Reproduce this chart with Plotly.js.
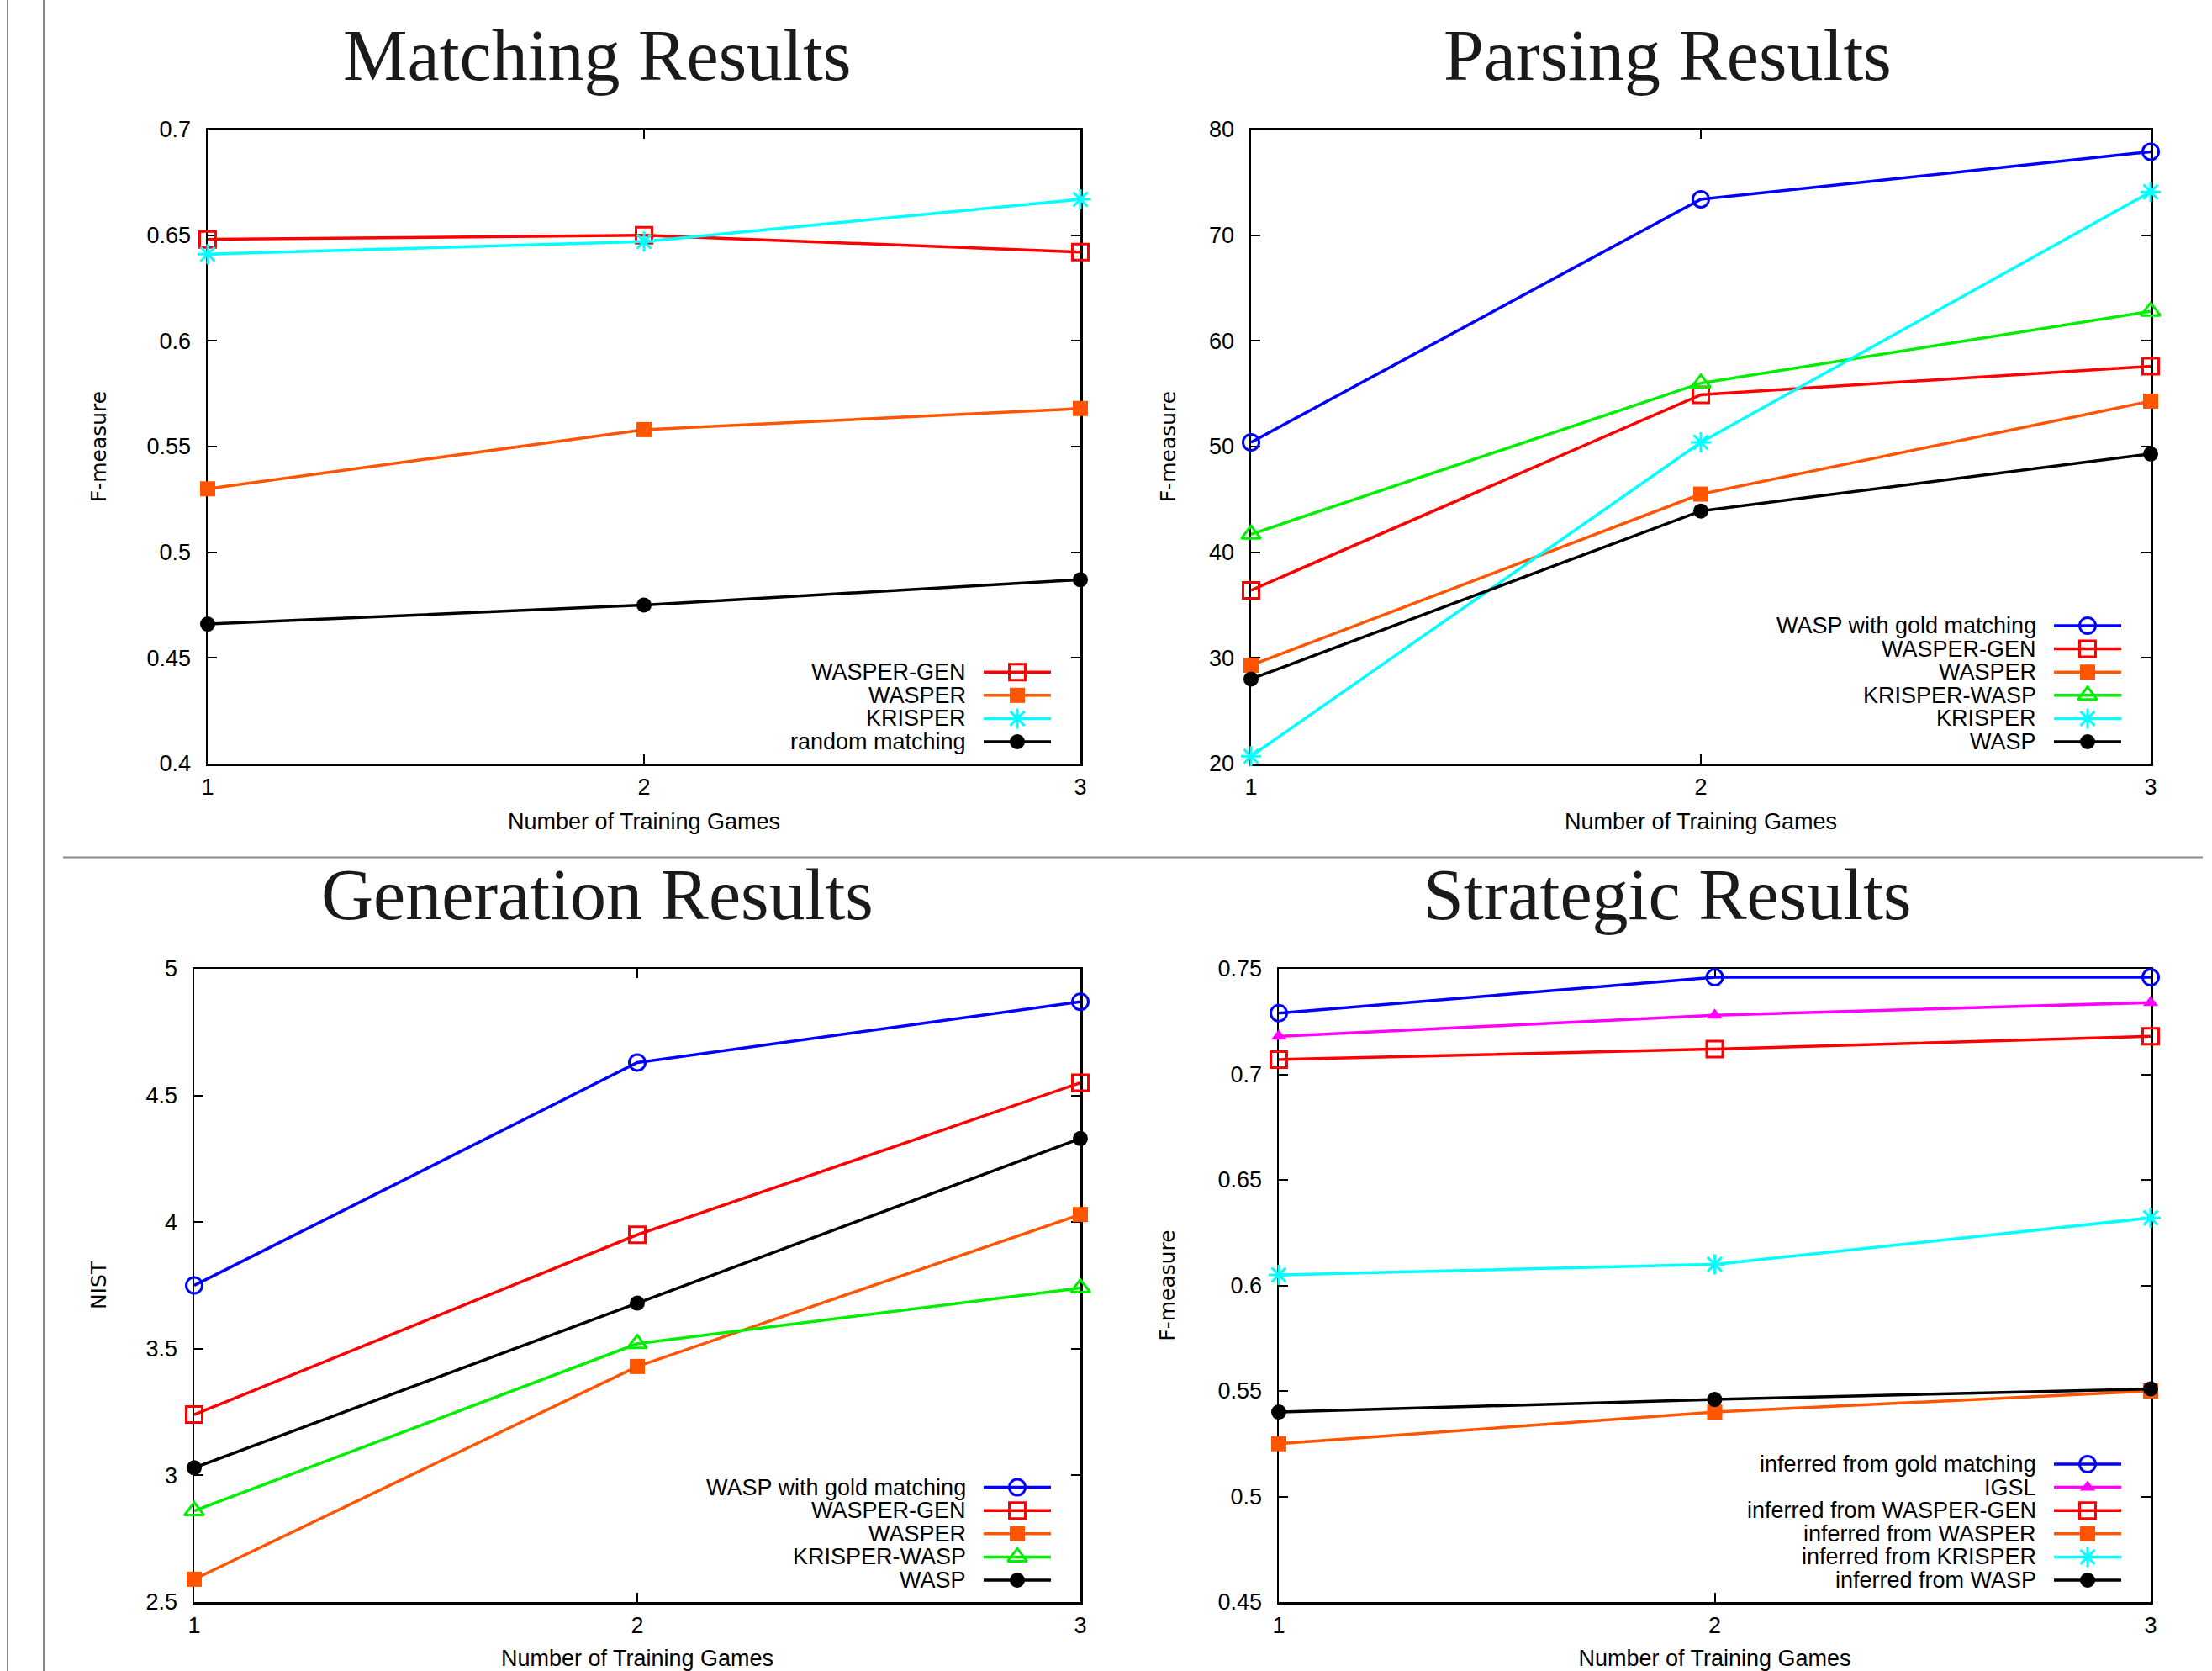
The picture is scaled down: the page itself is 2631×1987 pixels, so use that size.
<!DOCTYPE html>
<html><head><meta charset="utf-8">
<script src="https://cdn.plot.ly/plotly-3.0.1.min.js"></script>
<style>html,body{margin:0;padding:0;background:#fff;} #chart{width:2631px;height:1987px;}</style>
</head><body><div id="chart"></div>
<script>
// ---------------- data ----------------
const xGames = [1, 2, 3];
const xTickLabels = ['1', '2', '3'];

// Matching Results (F-measure)
const matchWasperGen = [0.648, 0.650, 0.642];
const matchWasper    = [0.530, 0.558, 0.568];
const matchKrisper   = [0.641, 0.647, 0.667];
const matchRandom    = [0.466, 0.475, 0.487];
const matchYTicks    = [0.4, 0.45, 0.5, 0.55, 0.6, 0.65, 0.7];
const matchYTickText = ['0.4', '0.45', '0.5', '0.55', '0.6', '0.65', '0.7'];

// Parsing Results (F-measure)
const parseGold        = [50.4, 73.4, 77.9];
const parseWasperGen   = [36.4, 54.9, 57.6];
const parseWasper      = [29.3, 45.5, 54.3];
const parseKrisperWasp = [41.7, 56.0, 62.8];
const parseKrisper     = [20.7, 50.4, 74.1];
const parseWasp        = [28.0, 43.9, 49.3];
const parseYTicks      = [20, 30, 40, 50, 60, 70, 80];
const parseYTickText   = ['20', '30', '40', '50', '60', '70', '80'];

// Generation Results (NIST)
const genGold        = [3.75, 4.63, 4.87];
const genWasperGen   = [3.24, 3.95, 4.55];
const genWasper      = [2.59, 3.43, 4.03];
const genKrisperWasp = [2.86, 3.52, 3.74];
const genWasp        = [3.03, 3.68, 4.33];
const genYTicks      = [2.5, 3, 3.5, 4, 4.5, 5];
const genYTickText   = ['2.5', '3', '3.5', '4', '4.5', '5'];

// Strategic Results (F-measure)
const stratGold      = [0.729, 0.746, 0.746];
const stratIGSL      = [0.718, 0.728, 0.734];
const stratWasperGen = [0.707, 0.712, 0.718];
const stratWasper    = [0.525, 0.540, 0.550];
const stratKrisper   = [0.605, 0.610, 0.632];
const stratWasp      = [0.540, 0.546, 0.551];
const stratYTicks    = [0.45, 0.5, 0.55, 0.6, 0.65, 0.7, 0.75];
const stratYTickText = ['0.45', '0.5', '0.55', '0.6', '0.65', '0.7', '0.75'];

// ---------------- styling ----------------
const W = 2631, H = 1987;
const STY = {
  gold:    {color: '#0000ff', symbol: 'circle-open',      size: 19, open: true},
  wgen:    {color: '#ff0000', symbol: 'square-open',      size: 19, open: true},
  wasper:  {color: '#ff5500', symbol: 'square',           size: 18, open: false},
  kw:      {color: '#00ee00', symbol: 'triangle-up-open', size: 20, open: true},
  krisper: {color: '#00ffff', symbol: 'asterisk-open',    size: 20, open: true},
  wasp:    {color: '#000000', symbol: 'circle',           size: 18, open: false},
  igsl:    {color: '#ff00ff', symbol: 'triangle-up',      size: 16, open: false}
};
const SANS = 'Liberation Sans, Arial, sans-serif';
const YT_FONT = 'DejaVu Sans, sans-serif';
const SERIF = 'Liberation Serif, Times New Roman, serif';

const panels = [
  {title: 'Matching Results', titleX: 710, titleY: 66, box: [247, 154, 1285, 908],
   yRange: [0.4, 0.7], yTicks: matchYTicks, yText: matchYTickText, yTitle: 'F-measure', yStand: 41,
   series: [
     {name: 'WASPER-GEN', y: matchWasperGen, s: 'wgen'},
     {name: 'WASPER', y: matchWasper, s: 'wasper'},
     {name: 'KRISPER', y: matchKrisper, s: 'krisper'},
     {name: 'random matching', y: matchRandom, s: 'wasp'}
   ]},
  {title: 'Parsing Results', titleX: 1983, titleY: 66, box: [1488, 154, 2558, 908],
   yRange: [20, 80], yTicks: parseYTicks, yText: parseYTickText, yTitle: 'F-measure', yStand: 33,
   series: [
     {name: 'WASP with gold matching', y: parseGold, s: 'gold'},
     {name: 'WASPER-GEN', y: parseWasperGen, s: 'wgen'},
     {name: 'WASPER', y: parseWasper, s: 'wasper'},
     {name: 'KRISPER-WASP', y: parseKrisperWasp, s: 'kw'},
     {name: 'KRISPER', y: parseKrisper, s: 'krisper'},
     {name: 'WASP', y: parseWasp, s: 'wasp'}
   ]},
  {title: 'Generation Results', titleX: 710, titleY: 1064, box: [231, 1152, 1285, 1905],
   yRange: [2.5, 5], yTicks: genYTicks, yText: genYTickText, yTitle: 'NIST', yStand: 40,
   series: [
     {name: 'WASP with gold matching', y: genGold, s: 'gold'},
     {name: 'WASPER-GEN', y: genWasperGen, s: 'wgen'},
     {name: 'WASPER', y: genWasper, s: 'wasper'},
     {name: 'KRISPER-WASP', y: genKrisperWasp, s: 'kw'},
     {name: 'WASP', y: genWasp, s: 'wasp'}
   ]},
  {title: 'Strategic Results', titleX: 1983, titleY: 1064, box: [1521, 1152, 2558, 1905],
   yRange: [0.45, 0.75], yTicks: stratYTicks, yText: stratYTickText, yTitle: 'F-measure', yStand: 44,
   series: [
     {name: 'inferred from gold matching', y: stratGold, s: 'gold'},
     {name: 'IGSL', y: stratIGSL, s: 'igsl'},
     {name: 'inferred from WASPER-GEN', y: stratWasperGen, s: 'wgen'},
     {name: 'inferred from WASPER', y: stratWasper, s: 'wasper'},
     {name: 'inferred from KRISPER', y: stratKrisper, s: 'krisper'},
     {name: 'inferred from WASP', y: stratWasp, s: 'wasp'}
   ]}
];

const traces = [];
const annotations = [];
const layout = {
  width: W, height: H,
  margin: {l: 0, r: 0, t: 0, b: 0, pad: 0},
  paper_bgcolor: '#ffffff', plot_bgcolor: 'rgba(0,0,0,0)',
  showlegend: false,
  font: {family: SANS, size: 27, color: '#000'},
  shapes: [
    {type: 'line', xref: 'paper', yref: 'paper', x0: 9 / W, x1: 9 / W, y0: 0, y1: 1, line: {color: '#8a8a8a', width: 2}},
    {type: 'line', xref: 'paper', yref: 'paper', x0: 52 / W, x1: 52 / W, y0: 0, y1: 1, line: {color: '#8a8a8a', width: 2}},
    {type: 'line', xref: 'paper', yref: 'paper', x0: 75 / W, x1: 2620 / W, y0: 1 - 1019.5 / H, y1: 1 - 1019.5 / H, line: {color: '#8a8a8a', width: 2}}
  ],
  annotations: annotations
};

function markerFor(st) {
  return {
    symbol: st.symbol, size: st.size, color: st.color,
    line: {color: st.color, width: st.open ? 3 : 0}
  };
}

panels.forEach((p, i) => {
  const n = i + 1;
  const xid = n === 1 ? 'x' : 'x' + n;
  const yid = n === 1 ? 'y' : 'y' + n;
  const oxid = 'x' + (n + 4), oyid = 'y' + (n + 4);
  const [x0, y0, x1, y1] = p.box;
  const pw = x1 - x0, ph = y1 - y0;

  layout[n === 1 ? 'xaxis' : 'xaxis' + n] = {
    domain: [x0 / W, x1 / W], anchor: yid, range: [1, 3],
    tickmode: 'array', tickvals: xGames, ticktext: xTickLabels,
    ticks: 'inside', ticklen: 11, tickwidth: 2, tickcolor: '#000',
    showline: true, linecolor: '#000', linewidth: 2.5, mirror: 'ticks',
    showgrid: false, zeroline: false, layer: 'below traces',
    tickfont: {family: SANS, size: 27, color: '#000'}, ticklabelstandoff: 2,
    title: {text: 'Number of Training Games', font: {family: SANS, size: 27, color: '#000'}, standoff: 17},
    fixedrange: true
  };
  layout[n === 1 ? 'yaxis' : 'yaxis' + n] = {
    domain: [1 - y1 / H, 1 - y0 / H], anchor: xid, range: p.yRange,
    tickmode: 'array', tickvals: p.yTicks, ticktext: p.yText,
    ticks: 'inside', ticklen: 11, tickwidth: 2, tickcolor: '#000',
    showline: true, linecolor: '#000', linewidth: 2.5, mirror: 'ticks',
    showgrid: false, zeroline: false, layer: 'below traces',
    tickfont: {family: SANS, size: 27, color: '#000'}, ticklabelstandoff: 12,
    title: {text: p.yTitle, font: {family: YT_FONT, size: 25, color: '#000'}, standoff: p.yStand},
    fixedrange: true
  };
  // overlay axes in pixel units for the key (offset from right / from bottom)
  layout['xaxis' + (n + 4)] = {overlaying: xid, anchor: oyid, range: [-pw, 0], visible: false, fixedrange: true};
  layout['yaxis' + (n + 4)] = {overlaying: yid, anchor: oxid, range: [0, ph], visible: false, fixedrange: true};

  annotations.push({
    xref: 'paper', yref: 'paper', x: p.titleX / W, y: 1 - p.titleY / H,
    xanchor: 'center', yanchor: 'middle', showarrow: false, text: p.title,
    font: {family: SERIF, size: 86, color: '#1a1a1a'}
  });

  const m = p.series.length;
  p.series.forEach((s, k) => {
    const st = STY[s.s];
    traces.push({
      type: 'scatter', mode: 'lines+markers', x: xGames, y: s.y, name: s.name,
      xaxis: xid, yaxis: yid, cliponaxis: false,
      line: {color: st.color, width: 3.5}, marker: markerFor(st), showlegend: false
    });
    const ky = 26 + 27.6 * (m - 1 - k);
    traces.push({
      type: 'scatter', mode: 'lines', x: [-115, -35], y: [ky, ky],
      xaxis: oxid, yaxis: oyid, cliponaxis: false, hoverinfo: 'skip',
      line: {color: st.color, width: 3.5}, showlegend: false
    });
    traces.push({
      type: 'scatter', mode: 'markers', x: [-75], y: [ky],
      xaxis: oxid, yaxis: oyid, cliponaxis: false, hoverinfo: 'skip',
      marker: markerFor(st), showlegend: false
    });
    annotations.push({
      xref: oxid, yref: oyid, x: -134, y: ky, xanchor: 'right', yanchor: 'middle',
      showarrow: false, text: s.name, font: {family: SANS, size: 27, color: '#000'}
    });
  });
});

Plotly.newPlot('chart', traces, layout, {staticPlot: true, displayModeBar: false});
</script>
</body></html>
